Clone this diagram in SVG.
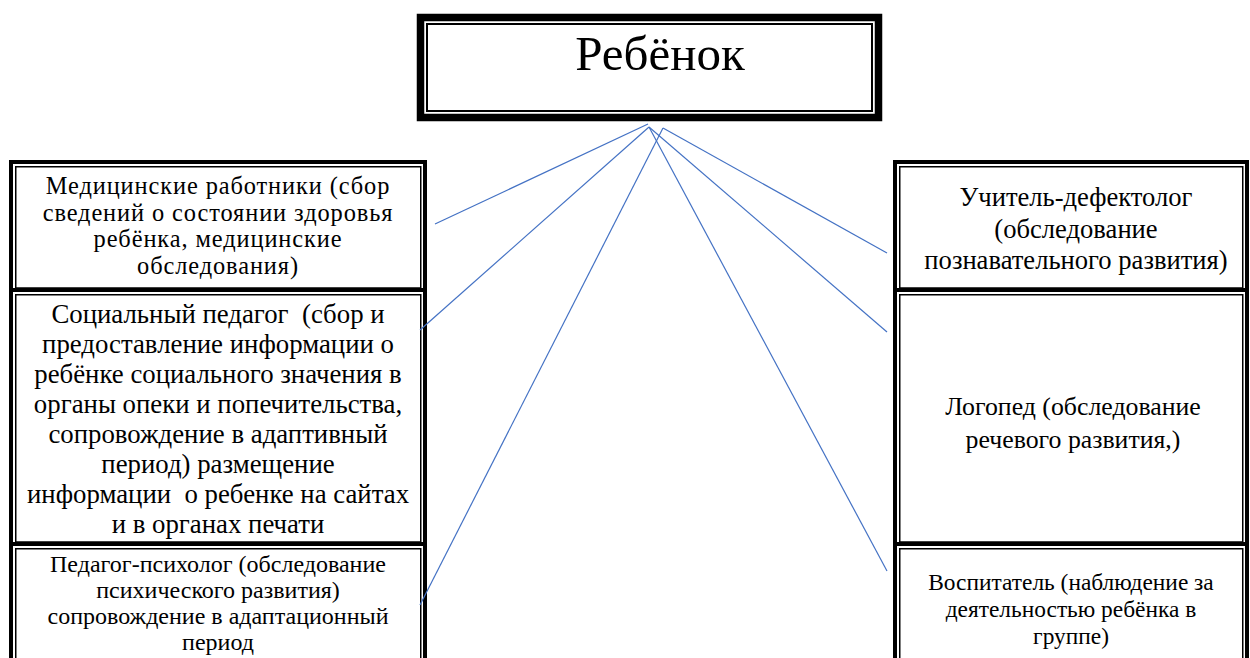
<svg xmlns="http://www.w3.org/2000/svg" width="1250" height="658" viewBox="0 0 1250 658">
<style>
.thick{fill:none;stroke:#000;stroke-width:4}
.thin{fill:none;stroke:#000;stroke-width:1.5}
.t{font-family:"Liberation Serif","Times New Roman",serif;fill:#000;text-anchor:middle;white-space:pre}
.conn line{stroke:#4472C4;stroke-width:1.2;fill:none}
</style>
<rect width="1250" height="658" fill="#fff"/>
<g id="child">
<rect x="420.5" y="17.5" width="458" height="100" fill="#fff" stroke="#000" stroke-width="7.5"/>
<rect x="427" y="24" width="445" height="87" fill="none" stroke="#000" stroke-width="2"/>
<text class="t" x="660" y="70" font-size="49">Ребёнок</text>
</g>
<g id="left-column">
<rect class="thick" x="11" y="162" width="414" height="520"/>
<line x1="9" y1="290" x2="427" y2="290" stroke="#000" stroke-width="4"/>
<line x1="9" y1="544" x2="427" y2="544" stroke="#000" stroke-width="4"/>
</g>
<g id="medical">
<rect class="thin" x="15.75" y="166.75" width="405" height="121.25"/>
<text class="t" font-size="24.4" letter-spacing="0.9" x="218"><tspan x="218" y="194">Медицинские работники (сбор</tspan><tspan x="218" y="220.5">сведений о состоянии здоровья</tspan><tspan x="218" y="247">ребёнка, медицинские</tspan><tspan x="218" y="273.5">обследования)</tspan></text>
</g>
<g id="social">
<rect class="thin" x="15.75" y="294.75" width="405" height="247.25"/>
<text class="t" font-size="26.8" x="218" xml:space="preserve"><tspan x="218" y="322.5">Социальный педагог  (сбор и</tspan><tspan x="218" y="352.5">предоставление информации о</tspan><tspan x="218" y="382.5">ребёнке социального значения в</tspan><tspan x="218" y="412.5">органы опеки и попечительства,</tspan><tspan x="218" y="442.5">сопровождение в адаптивный</tspan><tspan x="218" y="472.5">период) размещение</tspan><tspan x="218" y="502.5">информации  о ребенке на сайтах</tspan><tspan x="218" y="532.5">и в органах печати</tspan></text>
</g>
<g id="psychologist">
<rect class="thin" x="15.75" y="548.75" width="405" height="130"/>
<text class="t" font-size="24" x="218"><tspan x="218" y="572">Педагог-психолог (обследование</tspan><tspan x="218" y="598">психического развития)</tspan><tspan x="218" y="624">сопровождение в адаптационный</tspan><tspan x="218" y="650">период</tspan></text>
</g>
<g id="right-column">
<rect class="thick" x="895" y="162" width="352" height="520"/>
<line x1="893" y1="290" x2="1249" y2="290" stroke="#000" stroke-width="4"/>
<line x1="893" y1="544" x2="1249" y2="544" stroke="#000" stroke-width="4"/>
</g>
<g id="defectologist">
<rect class="thin" x="899.75" y="166.75" width="343" height="121.25"/>
<text class="t" font-size="26.6" x="1076"><tspan x="1076" y="206">Учитель-дефектолог</tspan><tspan x="1076" y="237.5">(обследование</tspan><tspan x="1076" y="269">познавательного развития)</tspan></text>
</g>
<g id="speech-therapist">
<rect class="thin" x="899.75" y="294.75" width="343" height="247.25"/>
<text class="t" font-size="25.8" x="1073"><tspan x="1073" y="415">Логопед (обследование</tspan><tspan x="1073" y="448">речевого развития,)</tspan></text>
</g>
<g id="educator">
<rect class="thin" x="899.75" y="548.75" width="343" height="130"/>
<text class="t" font-size="23.4" x="1071"><tspan x="1071" y="590">Воспитатель (наблюдение за</tspan><tspan x="1071" y="617">деятельностью ребёнка в</tspan><tspan x="1071" y="644">группе)</tspan></text>
</g>
<g id="connectors" class="conn">
<line x1="648" y1="124" x2="435" y2="224"/>
<line x1="649" y1="127" x2="420" y2="330"/>
<line x1="663" y1="128" x2="420" y2="605"/>
<line x1="663" y1="128" x2="887" y2="253"/>
<line x1="649" y1="127" x2="887" y2="332"/>
<line x1="649" y1="127" x2="887" y2="571"/>
</g>
</svg>
